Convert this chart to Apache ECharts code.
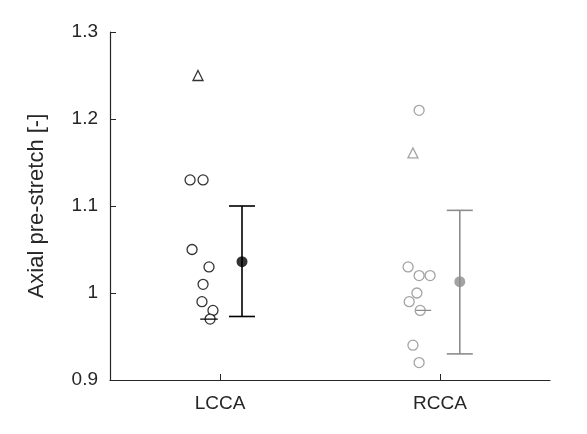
<!DOCTYPE html>
<html>
<head>
<meta charset="UTF-8">
<script src="https://cdn.jsdelivr.net/npm/echarts@6/dist/echarts.min.js"></script>
<style>html,body{margin:0;background:#fff}</style>
</head>
<body>
<div id="main" style="width:587px;height:434px;"></div>
<script>
var categories = ['LCCA', 'RCCA'];
var colors = ['#000000', '#8c8c8c'];
// individual values [x position, value]
var lccaCircles = [[0.864, 1.13], [0.923, 1.13], [0.873, 1.05], [0.95, 1.03], [0.923, 1.01], [0.918, 0.99], [0.968, 0.98], [0.955, 0.97]];
var lccaTriangles = [[0.9, 1.25]];
var rccaCircles = [[1.905, 1.21], [1.855, 1.03], [1.905, 1.02], [1.955, 1.02], [1.895, 1.0], [1.86, 0.99], [1.91, 0.98], [1.877, 0.94], [1.905, 0.92]];
var rccaTriangles = [[1.877, 1.161]];
var medians = [0.97, 0.98];
var medianX = [[0.91, 0.99], [1.89, 1.96]];
var means = [1.036, 1.013];
var meanX = [1.1, 2.09];
var lows = [0.973, 0.93];
var highs = [1.1, 1.095];

var font = 'Liberation Sans';
var series = [];
function pts(data, sym, col) {
    series.push({type: 'scatter', data: data, symbol: sym, symbolSize: 10,
        itemStyle: {color: '#fff', borderColor: col, borderWidth: 1.3}, z: 3});
}
pts(lccaCircles, 'circle', colors[0]);
pts(lccaTriangles, 'triangle', colors[0]);
pts(rccaCircles, 'circle', colors[1]);
pts(rccaTriangles, 'triangle', colors[1]);
categories.forEach(function (c, i) {
    series.push({type: 'line', data: [[medianX[i][0], medians[i]], [medianX[i][1], medians[i]]],
        symbol: 'none', lineStyle: {color: colors[i], width: 1.3}, z: 4});
    series.push({type: 'custom', data: [[meanX[i], lows[i], highs[i]]], z: 2,
        renderItem: function (params, api) {
            var lo = api.coord([api.value(0), api.value(1)]);
            var hi = api.coord([api.value(0), api.value(2)]);
            var s = {stroke: colors[i], lineWidth: 1.6};
            return {type: 'group', children: [
                {type: 'line', shape: {x1: lo[0], y1: lo[1], x2: hi[0], y2: hi[1]}, style: s},
                {type: 'line', shape: {x1: lo[0] - 13, y1: lo[1], x2: lo[0] + 13, y2: lo[1]}, style: s},
                {type: 'line', shape: {x1: hi[0] - 13, y1: hi[1], x2: hi[0] + 13, y2: hi[1]}, style: s}
            ]};
        }});
    series.push({type: 'scatter', data: [[meanX[i], means[i]]], symbolSize: 11,
        itemStyle: {color: colors[i]}, z: 5});
});

var chart = echarts.init(document.getElementById('main'));
chart.setOption({
    animation: false,
    grid: {left: 110, right: 37, top: 32, bottom: 54},
    xAxis: {
        type: 'value', min: 0.5, max: 2.5, interval: 0.5,
        axisLine: {lineStyle: {color: '#262626', width: 1.2}},
        axisTick: {inside: true, length: 6, lineStyle: {color: '#262626'},
            customValues: [1, 2]},
        axisLabel: {customValues: [1, 2], color: '#262626', fontFamily: font, fontSize: 19, margin: 14,
            formatter: function (v) { return categories[Math.round(v) - 1]; }},
        splitLine: {show: false}
    },
    yAxis: {
        type: 'value', min: 0.9, max: 1.3, interval: 0.1,
        name: 'Axial pre-stretch [-]', nameLocation: 'middle', nameGap: 62,
        nameTextStyle: {color: '#262626', fontFamily: font, fontSize: 22},
        axisLine: {show: true, lineStyle: {color: '#262626', width: 1.2}},
        axisTick: {show: true, inside: true, length: 6, lineStyle: {color: '#262626'}},
        axisLabel: {color: '#262626', fontFamily: font, fontSize: 19, margin: 12,
            formatter: function (v) { return Math.abs(v - 1) < 1e-9 ? '1' : v.toFixed(1); }},
        splitLine: {show: false}
    },
    series: series
});
</script>
</body>
</html>
